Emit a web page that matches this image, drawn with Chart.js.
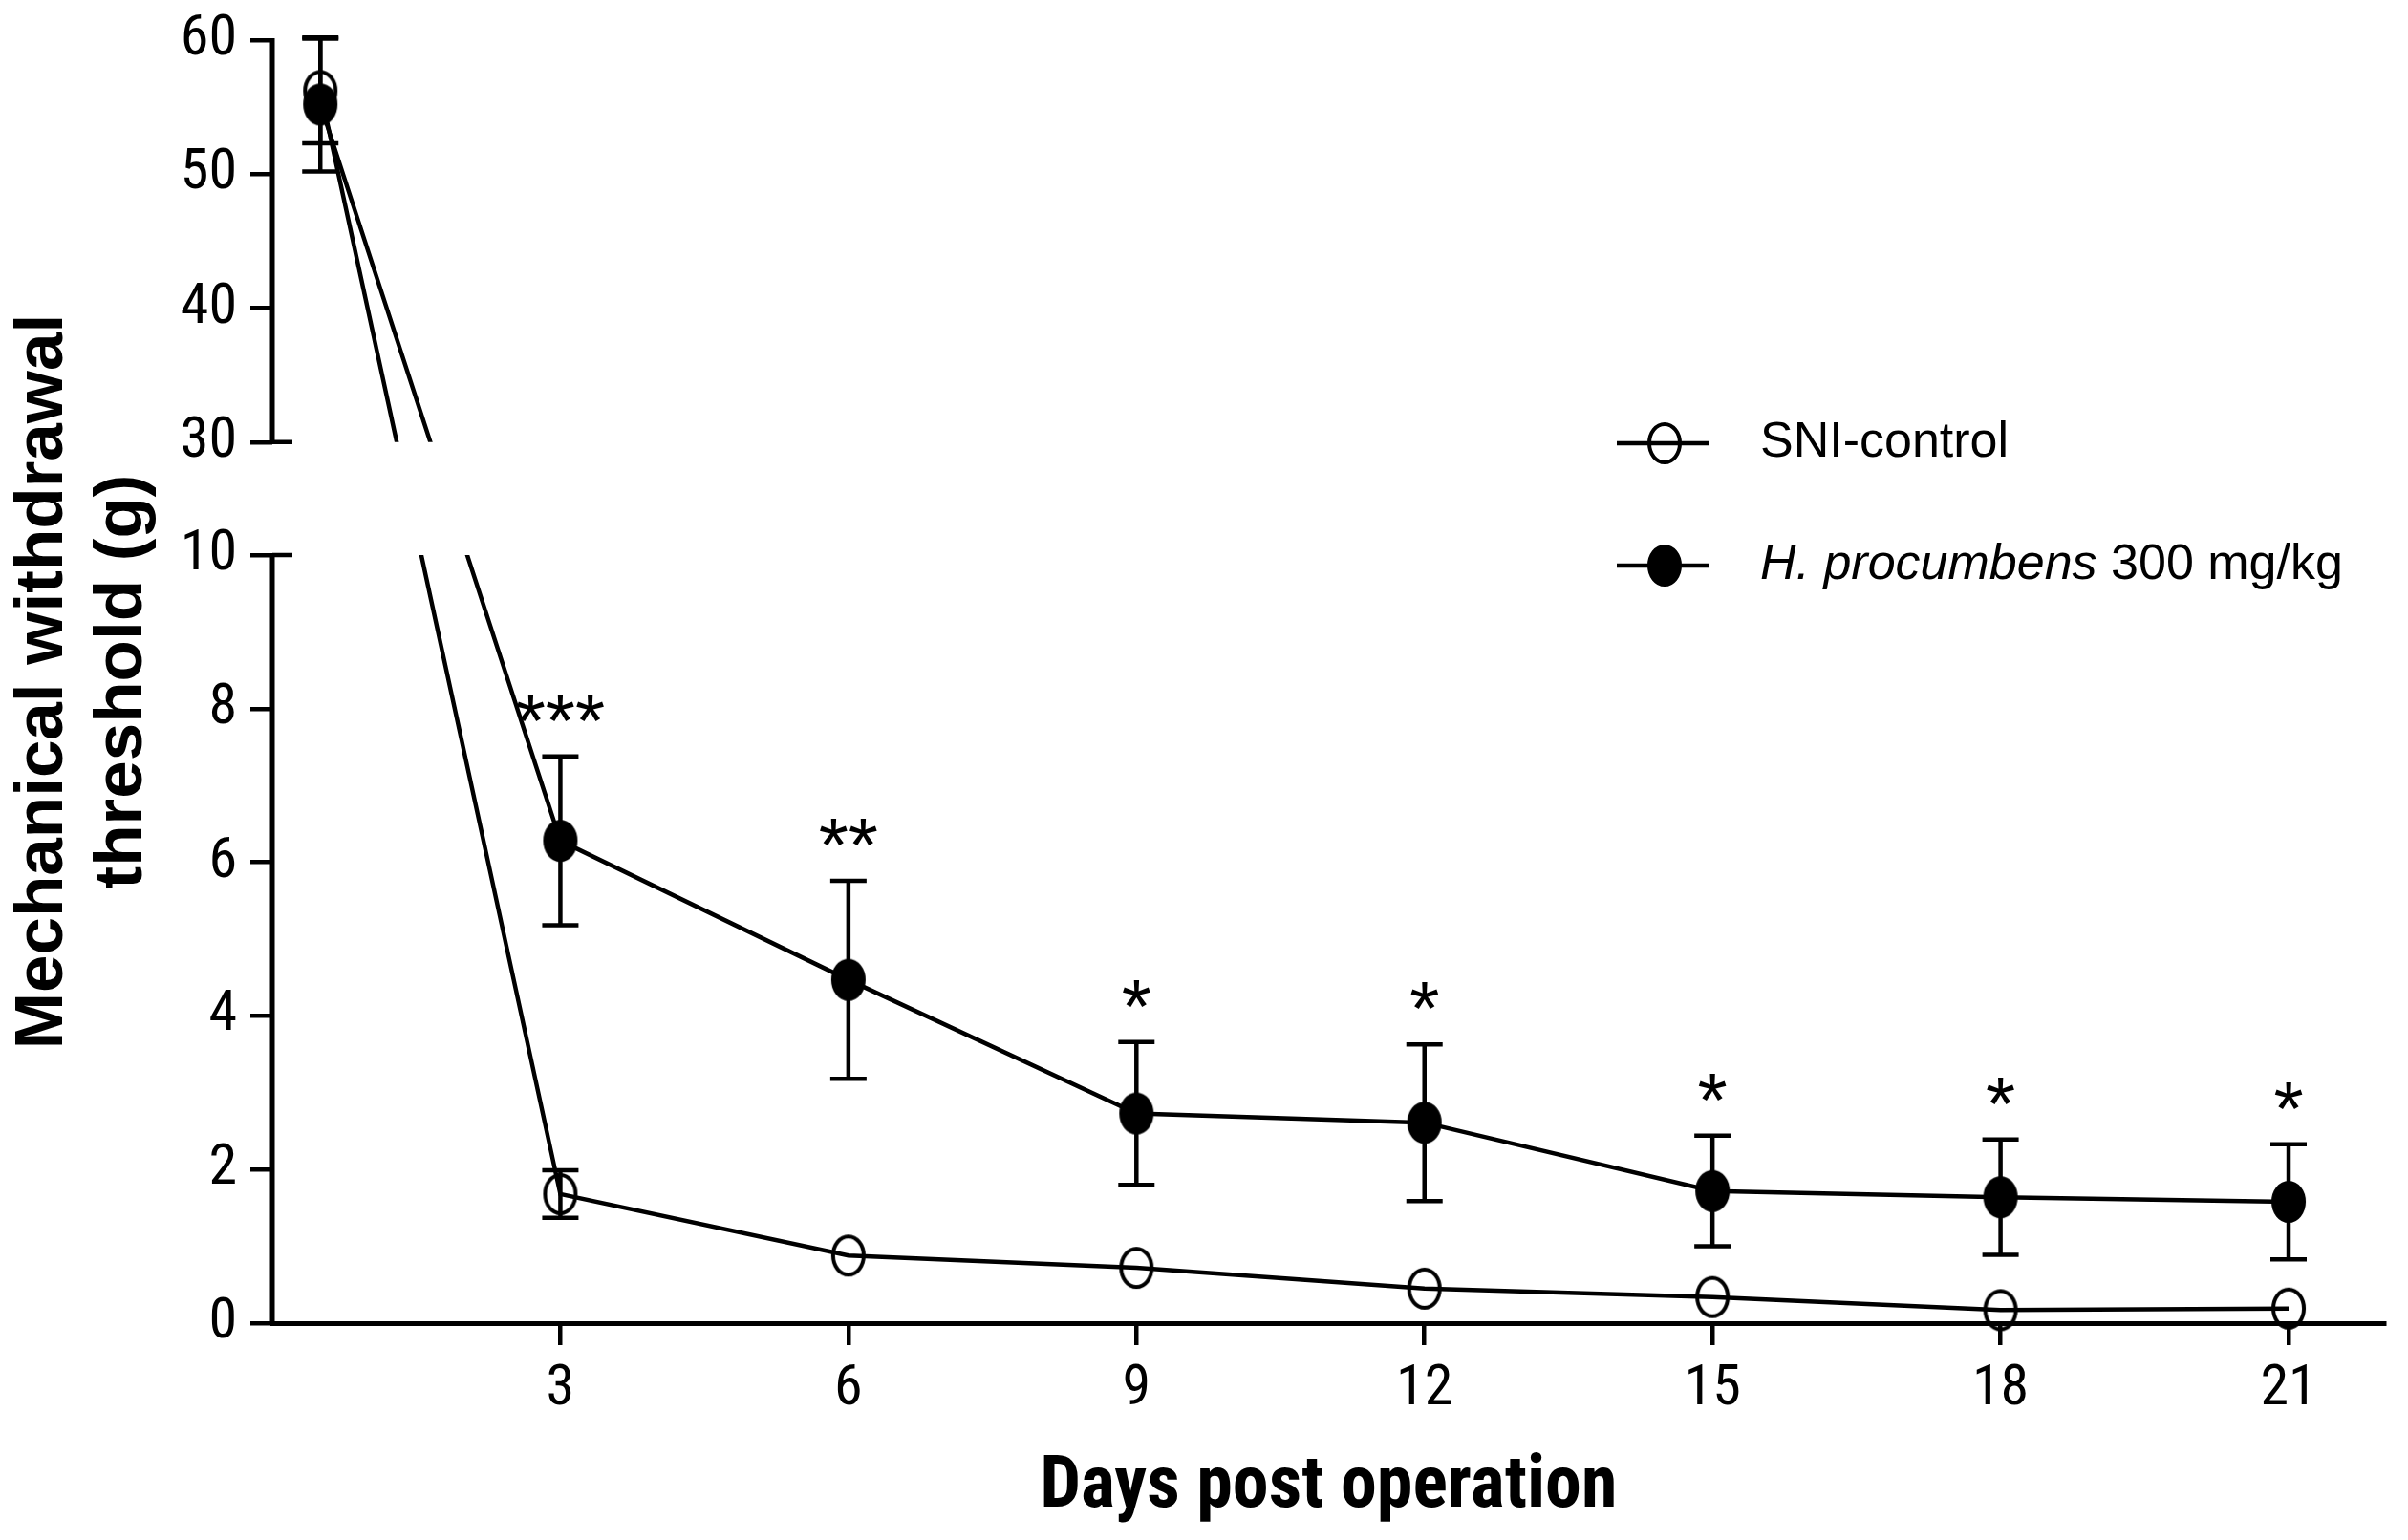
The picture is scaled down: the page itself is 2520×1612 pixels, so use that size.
<!DOCTYPE html>
<html>
<head>
<meta charset="utf-8">
<title>Mechanical withdrawal threshold</title>
<script src="https://cdn.jsdelivr.net/npm/chart.js@4.4.1/dist/chart.umd.min.js"></script>
<style>
  html, body { margin: 0; padding: 0; background: #fff; }
  #wrap { width: 2520px; height: 1612px; }
</style>
</head>
<body>
<div id="wrap"><canvas id="chart" width="2520" height="1612"></canvas></div>
<script>
// values (mean and SEM, g); 0 = error bar hidden by the symbol
const days = [0.5, 3, 6, 9, 12, 15, 18, 21];
const dayTicks = [3, 6, 9, 12, 15, 18, 21];
const yTicks = [0, 2, 4, 6, 8, 10, 30, 40, 50, 60];
const sniMean = [56.2, 1.68, 0.88, 0.72, 0.45, 0.34, 0.17, 0.19];
const sniErr = [3.9, 0.31, 0, 0, 0, 0, 0, 0];
const hpMean = [55.2, 6.28, 4.47, 2.73, 2.61, 1.72, 1.64, 1.58];
const hpErr = [5.0, 1.1, 1.29, 0.93, 1.02, 0.72, 0.75, 0.75];
const stars = ['', '***', '**', '*', '*', '*', '*', '*'];
const seriesNames = ['SNI-control', 'H. procumbens 300 mg/kg'];
const italicPart = ['', 'H. procumbens'];

const SANS = '"Liberation Sans", Arial, sans-serif';
const NARROW = '"Roboto Condensed", "Liberation Sans", sans-serif';

// y axis is cut between 10 and 30, the upper part is squeezed
const breakLow = 10, breakHigh = 30, breakGap = 1.47, upperSquash = 0.1745;

class BrokenLinearScale extends Chart.LinearScale {
  static id = 'brokenLinear';
  static defaults = Chart.LinearScale.defaults;

  squeeze(v) {
    if (v <= breakLow) return v;
    if (v >= breakHigh) return breakLow + breakGap + (v - breakHigh) * upperSquash;
    return breakLow + (v - breakLow) / (breakHigh - breakLow) * breakGap;
  }
  unsqueeze(s) {
    if (s <= breakLow) return s;
    if (s >= breakLow + breakGap) return breakHigh + (s - breakLow - breakGap) / upperSquash;
    return breakLow + (s - breakLow) / breakGap * (breakHigh - breakLow);
  }
  getPixelForValue(v) {
    if (v === null || v === undefined || isNaN(v)) return NaN;
    const s0 = this.squeeze(this.min), s1 = this.squeeze(this.max);
    return this.getPixelForDecimal((this.squeeze(v) - s0) / (s1 - s0));
  }
  getValueForPixel(p) {
    const s0 = this.squeeze(this.min), s1 = this.squeeze(this.max);
    return this.unsqueeze(s0 + this.getDecimalForPixel(p) * (s1 - s0));
  }
}
Chart.register(BrokenLinearScale);

function ellipseMarker(filled) {
  const c = document.createElement('canvas');
  c.width = 40;
  c.height = 48;
  const g = c.getContext('2d');
  g.beginPath();
  g.ellipse(20, 24, 16, 20, 0, 0, Math.PI * 2);
  if (filled) {
    g.fillStyle = '#000';
    g.fill();
  }
  g.lineWidth = 4;
  g.strokeStyle = '#000';
  g.stroke();
  return c;
}
const openMarker = ellipseMarker(false);
const solidMarker = ellipseMarker(true);

function drawErrorBars(chart, means, errs) {
  const ctx = chart.ctx;
  const x = chart.scales.x, y = chart.scales.y;
  ctx.strokeStyle = '#000';
  ctx.lineWidth = 4.5;
  ctx.beginPath();
  days.forEach((d, i) => {
    if (!errs[i]) return;
    const px = x.getPixelForValue(d);
    const hi = y.getPixelForValue(means[i] + errs[i]);
    const lo = y.getPixelForValue(means[i] - errs[i]);
    ctx.moveTo(px, hi); ctx.lineTo(px, lo);
    ctx.moveTo(px - 19, hi); ctx.lineTo(px + 19, hi);
    ctx.moveTo(px - 19, lo); ctx.lineTo(px + 19, lo);
  });
  ctx.stroke();
}

const brokenAxis = {
  id: 'brokenAxis',
  beforeDatasetsDraw(chart) {
    const { ctx, chartArea: a, scales: { y } } = chart;
    const yTop = y.getPixelForValue(60);
    const y30 = y.getPixelForValue(breakHigh);
    const y10 = y.getPixelForValue(breakLow);
    const y0 = y.getPixelForValue(0);
    ctx.save();
    ctx.strokeStyle = '#000';
    ctx.lineWidth = 5;
    ctx.beginPath();
    ctx.moveTo(a.left, yTop - 2); ctx.lineTo(a.left, y30 + 2);
    ctx.moveTo(a.left, y10 - 2); ctx.lineTo(a.left, y0);
    ctx.stroke();
    ctx.lineWidth = 4.5;
    ctx.beginPath();
    ctx.moveTo(a.left, y30); ctx.lineTo(a.left + 21, y30);
    ctx.moveTo(a.left, y10); ctx.lineTo(a.left + 21, y10);
    ctx.stroke();
    ctx.restore();

    // nothing of the data may show inside the break
    ctx.save();
    ctx.beginPath();
    ctx.rect(0, 0, chart.width, y30);
    ctx.rect(0, y10, chart.width, chart.height - y10);
    ctx.clip();
    drawErrorBars(chart, sniMean, sniErr);
    drawErrorBars(chart, hpMean, hpErr);
  },
  afterDatasetsDraw(chart) {
    const { ctx, scales: { x, y } } = chart;
    ctx.restore();
    ctx.save();
    ctx.fillStyle = '#000';
    ctx.font = '80px ' + SANS;
    ctx.textAlign = 'center';
    ctx.textBaseline = 'middle';
    stars.forEach((s, i) => {
      if (!s) return;
      const px = x.getPixelForValue(days[i]);
      const top = y.getPixelForValue(hpMean[i] + hpErr[i]);
      ctx.fillText(s, px, top - 32);
    });
    ctx.restore();
  }
};

const legendBox = {
  id: 'legendBox',
  afterDraw(chart) {
    const ctx = chart.ctx;
    const markers = [openMarker, solidMarker];
    const rows = [464, 592];
    ctx.save();
    ctx.strokeStyle = '#000';
    ctx.fillStyle = '#000';
    ctx.textBaseline = 'middle';
    ctx.textAlign = 'left';
    seriesNames.forEach((name, i) => {
      const ry = rows[i];
      ctx.lineWidth = 4.5;
      ctx.beginPath();
      ctx.moveTo(1692, ry); ctx.lineTo(1788, ry);
      ctx.stroke();
      const m = markers[i];
      ctx.drawImage(m, 1742 - m.width / 2, ry - m.height / 2);
      let tx = 1842;
      const it = italicPart[i];
      if (it) {
        ctx.font = 'italic 52px ' + SANS;
        ctx.fillText(it, tx, ry);
        tx += ctx.measureText(it).width;
      }
      ctx.font = '52px ' + SANS;
      ctx.fillText(name.slice(it.length), tx, ry);
    });
    ctx.restore();
  }
};

new Chart(document.getElementById('chart'), {
  type: 'line',
  data: {
    datasets: [
      {
        label: seriesNames[0],
        data: days.map((d, i) => ({ x: d, y: sniMean[i] })),
        borderColor: '#000',
        borderWidth: 4.5,
        pointStyle: openMarker,
        pointRadius: 20,
        tension: 0,
        fill: false,
        clip: false
      },
      {
        label: seriesNames[1],
        data: days.map((d, i) => ({ x: d, y: hpMean[i] })),
        borderColor: '#000',
        borderWidth: 4.5,
        pointStyle: solidMarker,
        pointRadius: 20,
        tension: 0,
        fill: false,
        clip: false
      }
    ]
  },
  options: {
    responsive: false,
    animation: false,
    devicePixelRatio: 1,
    events: [],
    layout: { padding: { top: 42, right: 2, left: 0, bottom: 0 } },
    plugins: {
      legend: { display: false },
      tooltip: { enabled: false }
    },
    scales: {
      x: {
        type: 'linear',
        min: 0,
        max: 22,
        afterBuildTicks: s => { s.ticks = dayTicks.map(v => ({ value: v })); },
        afterFit: s => { s.height = 227; s.paddingLeft = 0; s.paddingRight = 0; },
        grid: { drawOnChartArea: false, drawTicks: true, tickLength: 23, lineWidth: 4.5, color: '#000' },
        border: { display: true, width: 5, color: '#000' },
        ticks: {
          autoSkip: false,
          maxRotation: 0,
          padding: 11,
          color: '#000',
          font: { family: NARROW, size: 60 }
        },
        title: {
          display: true,
          text: 'Days post operation',
          color: '#000',
          font: { family: NARROW, size: 76, weight: 'bold' },
          padding: { top: 0, bottom: 8 }
        }
      },
      y: {
        type: 'brokenLinear',
        min: 0,
        max: 60,
        afterBuildTicks: s => { s.ticks = yTicks.map(v => ({ value: v })); },
        afterFit: s => { s.width = 285; s.paddingTop = 0; s.paddingBottom = 0; },
        grid: { drawOnChartArea: false, drawTicks: true, tickLength: 23, lineWidth: 4.5, color: '#000' },
        border: { display: false },
        ticks: {
          autoSkip: false,
          padding: 14,
          color: '#000',
          font: { family: NARROW, size: 60 }
        },
        title: {
          display: true,
          text: ['Mechanical withdrawal', 'threshold (g)'],
          color: '#000',
          font: { family: SANS, size: 71, weight: 'bold', lineHeight: 1.17 },
          padding: { top: 4, bottom: 0 }
        }
      }
    }
  },
  plugins: [brokenAxis, legendBox]
});
</script>
</body>
</html>
